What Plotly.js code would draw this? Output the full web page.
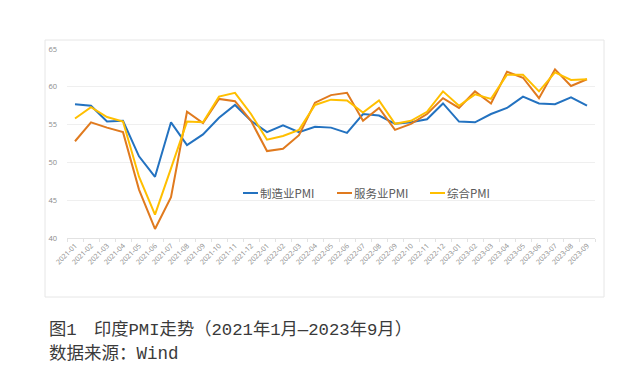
<!DOCTYPE html>
<html>
<head>
<meta charset="utf-8">
<script src="https://cdn.plot.ly/plotly-3.0.1.min.js"></script>
<style>
html,body{margin:0;padding:0;background:#fff;}
#chart{width:636px;height:389px;}
</style>
</head>
<body>
<div id="chart"></div>
<script>
const months = ["2021-01","2021-02","2021-03","2021-04","2021-05","2021-06","2021-07","2021-08","2021-09","2021-10","2021-11","2021-12",
"2022-01","2022-02","2022-03","2022-04","2022-05","2022-06","2022-07","2022-08","2022-09","2022-10","2022-11","2022-12",
"2023-01","2023-02","2023-03","2023-04","2023-05","2023-06","2023-07","2023-08","2023-09"];
const manufacturing = [57.7,57.5,55.4,55.5,50.8,48.1,55.3,52.3,53.7,55.9,57.6,55.5,
54.0,54.9,54.0,54.7,54.6,53.9,56.4,56.2,55.1,55.3,55.7,57.8,
55.4,55.3,56.4,57.2,58.7,57.8,57.7,58.6,57.5];
const services = [52.8,55.3,54.6,54.0,46.4,41.2,45.4,56.7,55.2,58.4,58.1,55.5,
51.5,51.8,53.6,57.9,58.9,59.2,55.5,57.2,54.3,55.1,56.4,58.5,
57.2,59.4,57.8,62.0,61.2,58.5,62.3,60.1,61.0];
const composite = [55.8,57.3,56.0,55.4,48.1,43.1,49.2,55.4,55.3,58.7,59.2,56.4,
53.0,53.5,54.3,57.6,58.3,58.2,56.6,58.2,55.1,55.5,56.7,59.4,
57.5,59.0,58.4,61.6,61.6,59.4,61.9,60.9,61.0];
const seriesNames = ["制造业PMI","服务业PMI","综合PMI"];
const yTicks = [40,45,50,55,60,65];

const W = 636, H = 389;
const L = 67, R = 41, T = 49, B = 151;
const pw = W - L - R, ph = H - T - B;
function px(x){ return (x - L) / pw; }
function py(y){ return (H - B - y) / ph; }

const colors = ["#2372C0","#E07A1E","#FFBF00"];
const data = [manufacturing, services, composite].map((v,i)=>({
  type:"scatter", mode:"lines", x: months, y: v, name: seriesNames[i],
  line:{color:colors[i], width:2}, showlegend:false
}));

// custom legend (line sample + label)
const legendX = [243, 337, 430];
const legendY = 193;
const legendShapes = legendX.map((x,i)=>({type:"line", xref:"paper", yref:"paper",
  x0:px(x), x1:px(x+15), y0:py(legendY), y1:py(legendY), line:{color:colors[i], width:2}}));
const legendAnn = legendX.map((x,i)=>({xref:"paper", yref:"paper", x:px(x+15), y:py(legendY),
  xanchor:"left", yanchor:"middle", showarrow:false, text:seriesNames[i],
  font:{family:"Noto Sans CJK SC, Open Sans, sans-serif", size:11.5, color:"#595959"}}));

const layout = {
  width: W, height: H,
  margin:{l:L, r:R, t:T, b:B, pad:0},
  paper_bgcolor:"#fff", plot_bgcolor:"#fff",
  showlegend:false,
  xaxis:{type:"category", range:[-0.5, months.length-0.5], tickangle:-45,
    tickfont:{family:"Open Sans, sans-serif", size:7, color:"#8a8a8a"},
    showgrid:false, showline:true, linecolor:"#e2e2e2", linewidth:1,
    ticks:"outside", tickson:"boundaries", ticklen:3, tickcolor:"#e2e2e2", zeroline:false, fixedrange:true},
  yaxis:{range:[40,65], tickvals:yTicks, ticktext:yTicks.map(String),
    tickfont:{family:"Open Sans, sans-serif", size:7.5, color:"#8a8a8a"},
    showgrid:true, gridcolor:"#efefef", gridwidth:1, showline:false, zeroline:false,
    ticks:"", ticklabelstandoff:9, fixedrange:true},
  shapes:[{type:"rect", xref:"paper", yref:"paper", x0:px(45), x1:px(604), y0:py(297), y1:py(40),
    line:{color:"#e6e6e6", width:1}, fillcolor:"rgba(0,0,0,0)", layer:"below"}].concat(legendShapes),
  annotations:[
    {xref:"paper", yref:"paper", x:px(47), y:py(330), xanchor:"left", yanchor:"middle", showarrow:false,
     text:"图1　印度PMI走势（2021年1月—2023年9月）",
     font:{family:"Liberation Mono, Noto Sans CJK SC, monospace", size:17.3, color:"#3a3a3a"}},
    {xref:"paper", yref:"paper", x:px(47), y:py(354), xanchor:"left", yanchor:"middle", showarrow:false,
     text:"数据来源：Wind",
     font:{family:"Liberation Mono, Noto Sans CJK SC, monospace", size:17.5, color:"#3a3a3a"}}
  ].concat(legendAnn)
};
Plotly.newPlot("chart", data, layout, {displayModeBar:false, staticPlot:true});
</script>
</body>
</html>
